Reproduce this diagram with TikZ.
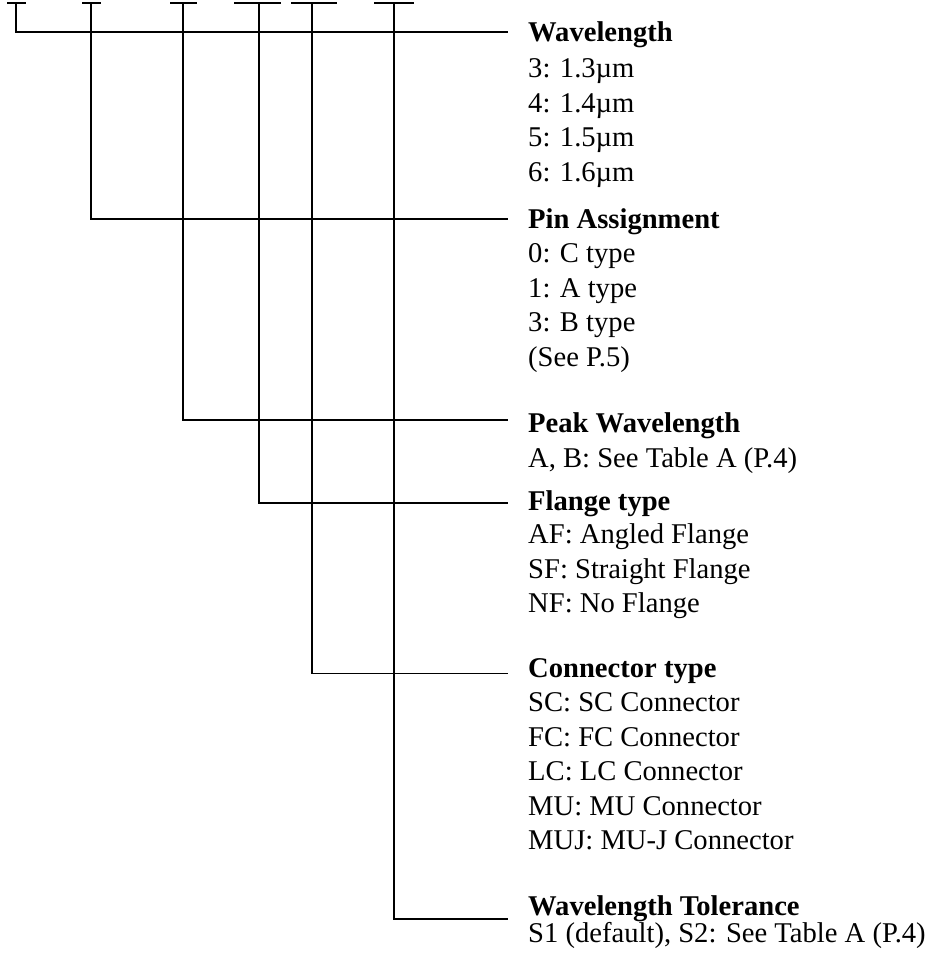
\documentclass[tikz,border=0pt]{standalone}
\usepackage{fontspec}
\setmainfont{Liberation Serif}
\begin{document}
\begin{tikzpicture}[x=1pt,y=-1pt,
  head/.style={font={\fontsize{28.6}{34.5}\selectfont\bfseries}, anchor=base west, inner sep=0},
  items/.style={font={\fontsize{28.6}{34.5}\selectfont}, align=left, anchor=north west, inner sep=0},
  wire/.style={line width=1.6pt},
  bar/.style={line width=2.8pt}]
  \useasboundingbox (0,0) rectangle (935,959);
  \def\tx{528}
  \def\gap{20}

  % code positions along the top
  \coordinate (c1) at (16,3);
  \coordinate (c2) at (91,3);
  \coordinate (c3) at (183,3);
  \coordinate (c4) at (259,3);
  \coordinate (c5) at (312,3);
  \coordinate (c6) at (394,3);
  \draw[bar] (7,3) -- (26,3);
  \draw[bar] (82,3) -- (101,3);
  \draw[bar] (170,3) -- (197,3);
  \draw[bar] (234,3) -- (281,3);
  \draw[bar] (291,3) -- (337,3);
  \draw[bar] (374,3) -- (414,3);

  \node[head] (wl) at (\tx,41) {Wavelength};
  \node[items] (wl-list) at (\tx,58.6) {3: 1.3µm\\4: 1.4µm\\5: 1.5µm\\6: 1.6µm};

  \node[head] (pin) at (\tx,228) {Pin Assignment};
  \node[items] (pin-list) at (\tx,243.6) {0: C type\\1: A type\\3: B type\\(See P.5)};

  \node[head] (peak) at (\tx,432) {Peak Wavelength};
  \node[items] (peak-list) at (\tx,447.6) {A, B: See Table A (P.4)};

  \node[head] (fl) at (\tx,510) {Flange type};
  \node[items] (fl-list) at (\tx,523.6) {AF: Angled Flange\\SF: Straight Flange\\NF: No Flange};

  \node[head] (con) at (\tx,677) {Connector type};
  \node[items] (con-list) at (\tx,692.6) {SC: SC Connector\\FC: FC Connector\\LC: LC Connector\\MU: MU Connector\\MUJ: MU-J Connector};

  \node[head] (tol) at (\tx,915) {Wavelength Tolerance};
  \node[items] (tol-list) at (\tx,922.6) {S1 (default), S2: See Table A (P.4)};

  \draw[wire] (c1) |- ([xshift=-\gap,yshift=2]wl.west);
  \draw[wire] (c2) |- ([xshift=-\gap,yshift=2]pin.west);
  \draw[wire] (c3) |- ([xshift=-\gap,yshift=5]peak.west);
  \draw[wire] (c4) |- ([xshift=-\gap]fl.west);
  \draw[wire] (c5) |- ([xshift=-\gap,yshift=-3]con.west);
  \draw[wire] (c6) |- ([xshift=-\gap,yshift=-11]tol.west);
\end{tikzpicture}
\end{document}
